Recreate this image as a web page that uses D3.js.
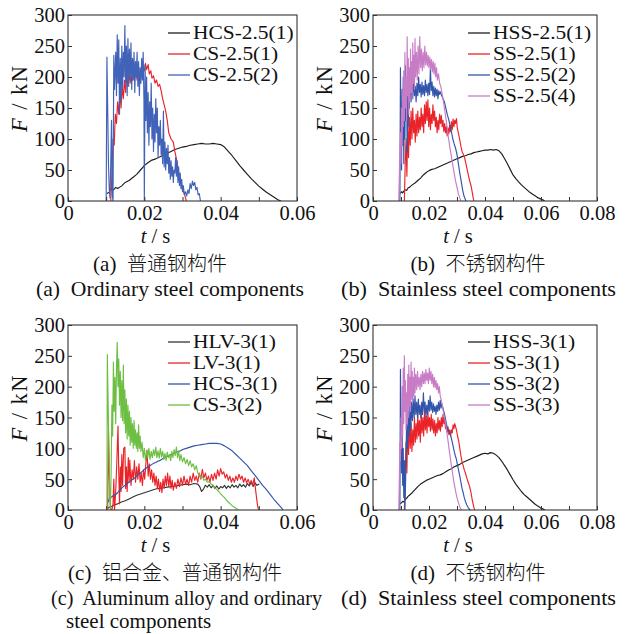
<!DOCTYPE html>
<html><head><meta charset="utf-8">
<script src="https://cdn.jsdelivr.net/npm/d3@7"></script>
<style>body{margin:0;background:#fff}svg{display:block}</style>
</head><body><svg id="c" width="626" height="634"></svg>
<script>
// ---------- DATA ([t (s), F (kN)]) ----------
const yTicks = [0, 50, 100, 150, 200, 250, 300];
const xTicksA = [0, 0.02, 0.04, 0.06];
const xTicksB = [0, 0.02, 0.04, 0.06, 0.08];

const HCS_2_5_1 = [[0.0102,12],[0.0108,14],[0.0112,20],[0.0118,17],[0.0125,22],[0.013,20],[0.014,24],[0.015,30],[0.016,33],[0.017,38],[0.018,43],[0.019,50],[0.02,57],[0.021,62],[0.022,66],[0.023,68],[0.024,71],[0.025,74],[0.026,77],[0.027,80],[0.028,83],[0.029,85],[0.03,87],[0.031,88],[0.032,90],[0.033,91],[0.034,92],[0.035,93],[0.036,92],[0.037,92],[0.038,93],[0.039,92],[0.04,91],[0.041,87],[0.042,80],[0.043,73],[0.044,65],[0.045,57],[0.046,50],[0.047,43],[0.048,36],[0.049,30],[0.05,24],[0.051,19],[0.052,14],[0.053,10],[0.054,6],[0.055,2],[0.0558,0]];
const CS_2_5_1 = [[0.0112,0],[0.0115,40],[0.0118,100],[0.0121,90],[0.0124,140],[0.0127,125],[0.013,160],[0.0133,140],[0.0136,175],[0.0139,150],[0.0142,185],[0.0145,165],[0.0148,195],[0.0151,175],[0.0154,200],[0.0157,185],[0.016,205],[0.0163,190],[0.0166,210],[0.0169,195],[0.0172,215],[0.0175,200],[0.0178,210],[0.0181,195],[0.0184,215],[0.0187,200],[0.019,212],[0.0193,205],[0.0196,218],[0.02,210],[0.0203,222],[0.0206,212],[0.021,220],[0.0213,205],[0.0217,210],[0.022,198],[0.0224,202],[0.0228,190],[0.0232,195],[0.0236,185],[0.024,188],[0.0244,178],[0.0248,165],[0.0252,155],[0.0256,145],[0.026,130],[0.0264,110],[0.027,100],[0.0276,95],[0.028,80],[0.0285,65],[0.029,45],[0.0298,23],[0.0307,7],[0.031,0]];
const CS_2_5_2 = [[0.01,0],[0.0102,232],[0.0104,150],[0.0106,60],[0.0108,20],[0.011,5],[0.0112,60],[0.0114,130],[0.0116,10],[0.0118,0],[0.012,235],[0.0122,180],[0.0125,240],[0.0127,170],[0.0129,268],[0.0131,190],[0.0133,260],[0.0135,140],[0.0137,230],[0.0139,160],[0.0141,250],[0.0143,180],[0.0145,240],[0.0147,200],[0.0149,283],[0.0151,190],[0.0153,250],[0.0155,170],[0.0157,262],[0.0159,185],[0.0161,245],[0.0163,200],[0.0165,255],[0.0167,180],[0.0169,230],[0.0171,195],[0.0173,240],[0.0175,175],[0.0177,225],[0.0179,200],[0.0181,240],[0.0183,185],[0.0185,225],[0.0187,170],[0.0189,215],[0.0191,190],[0.0193,230],[0.0195,195],[0.0197,240],[0.0199,160],[0.02,0],[0.0202,220],[0.0204,130],[0.0206,200],[0.0208,110],[0.021,175],[0.0212,90],[0.0214,160],[0.0216,120],[0.0218,190],[0.022,100],[0.0222,150],[0.0224,80],[0.0226,140],[0.0228,95],[0.023,165],[0.0232,110],[0.0234,150],[0.0236,70],[0.0238,120],[0.024,90],[0.0242,130],[0.0244,75],[0.0246,100],[0.0248,60],[0.025,145],[0.0252,55],[0.0254,95],[0.0256,50],[0.0258,85],[0.026,60],[0.0262,90],[0.0264,45],[0.0266,70],[0.0268,35],[0.027,65],[0.0272,40],[0.0274,55],[0.0276,30],[0.0278,50],[0.028,45],[0.0282,70],[0.0284,40],[0.0286,65],[0.0288,30],[0.029,55],[0.0292,25],[0.0294,45],[0.0296,20],[0.0298,35],[0.03,15],[0.0302,25],[0.0305,10],[0.0308,15],[0.0311,8],[0.0314,18],[0.0317,12],[0.032,28],[0.0323,20],[0.0326,32],[0.0329,25],[0.0332,30],[0.0335,18],[0.0338,22],[0.0341,10],[0.0344,12],[0.0347,0]];

const HSS_2_5_1 = [[0.0098,12],[0.0102,15],[0.0106,13],[0.011,16],[0.0115,18],[0.012,17],[0.0125,21],[0.013,22],[0.014,26],[0.015,29],[0.016,33],[0.017,37],[0.018,42],[0.019,46],[0.02,49],[0.021,51],[0.022,52],[0.023,54],[0.024,56],[0.025,58],[0.026,60],[0.027,62],[0.028,64],[0.029,66],[0.03,68],[0.031,70],[0.032,72],[0.033,73],[0.034,75],[0.035,76],[0.036,78],[0.037,79],[0.038,80],[0.039,81],[0.04,82],[0.041,82],[0.042,83],[0.043,82],[0.044,83],[0.045,81],[0.046,76],[0.047,68],[0.048,60],[0.049,51],[0.05,42],[0.051,36],[0.052,31],[0.053,26],[0.054,22],[0.055,18],[0.056,14],[0.057,11],[0.058,8],[0.059,5],[0.06,3],[0.061,1],[0.0613,0]];
const SS_2_5_1 = [[0.0112,0],[0.0115,60],[0.0118,100],[0.0121,40],[0.0124,120],[0.0127,70],[0.013,135],[0.0133,90],[0.0136,145],[0.0139,100],[0.0142,150],[0.0145,110],[0.0148,130],[0.0151,95],[0.0154,140],[0.0157,105],[0.016,145],[0.0163,110],[0.0166,135],[0.0169,115],[0.0172,150],[0.0175,120],[0.0178,140],[0.0181,110],[0.0184,155],[0.0187,125],[0.019,160],[0.0193,130],[0.0196,163],[0.0199,120],[0.0202,150],[0.0205,115],[0.0208,140],[0.0211,125],[0.0214,155],[0.0217,130],[0.022,145],[0.0223,120],[0.0226,135],[0.0229,110],[0.0232,130],[0.0235,115],[0.0238,140],[0.0241,125],[0.0244,138],[0.0247,120],[0.025,130],[0.0253,112],[0.0256,125],[0.0259,110],[0.0262,120],[0.0265,105],[0.0268,118],[0.0271,108],[0.0274,122],[0.0277,112],[0.028,128],[0.0283,115],[0.0286,132],[0.0289,120],[0.0292,130],[0.0295,125],[0.0298,133],[0.0301,118],[0.0304,112],[0.0307,105],[0.031,98],[0.0314,88],[0.0318,80],[0.0322,76],[0.0327,70],[0.0333,58],[0.0339,45],[0.0345,33],[0.0351,23],[0.0356,10],[0.036,0]];
const SS_2_5_2 = [[0.0096,0],[0.0098,215],[0.01,120],[0.0102,50],[0.0104,180],[0.0106,90],[0.0108,200],[0.011,60],[0.0112,150],[0.0114,100],[0.0116,218],[0.0118,130],[0.012,190],[0.0122,80],[0.0124,170],[0.0126,120],[0.0128,200],[0.013,150],[0.0133,210],[0.0136,160],[0.0139,195],[0.0142,165],[0.0145,205],[0.0148,170],[0.0151,185],[0.0154,160],[0.0157,190],[0.016,170],[0.0163,200],[0.0166,175],[0.0169,188],[0.0172,168],[0.0175,192],[0.0178,172],[0.0181,186],[0.0184,170],[0.0187,195],[0.019,175],[0.0193,188],[0.0196,170],[0.0199,190],[0.0202,172],[0.0205,215],[0.0208,178],[0.0211,192],[0.0214,170],[0.0217,185],[0.022,168],[0.0223,182],[0.0226,170],[0.0229,180],[0.0232,165],[0.0235,178],[0.0238,172],[0.0241,176],[0.0245,170],[0.025,165],[0.0255,160],[0.026,150],[0.0265,140],[0.027,132],[0.0275,122],[0.028,112],[0.0285,100],[0.029,92],[0.0295,85],[0.03,75],[0.0305,60],[0.031,45],[0.0315,32],[0.032,18],[0.0325,8],[0.0332,0]];
const SS_2_5_4 = [[0.0092,0],[0.0095,60],[0.0098,110],[0.01,60],[0.0102,150],[0.0104,90],[0.0106,180],[0.0108,120],[0.011,210],[0.0112,130],[0.0114,240],[0.0116,150],[0.0118,200],[0.012,130],[0.0122,265],[0.0124,170],[0.0126,230],[0.0128,140],[0.013,215],[0.0132,160],[0.0134,245],[0.0136,175],[0.0138,225],[0.014,165],[0.0142,255],[0.0144,190],[0.0146,235],[0.0148,180],[0.015,262],[0.0152,200],[0.0155,240],[0.0158,195],[0.0161,250],[0.0164,205],[0.0167,265],[0.017,215],[0.0173,245],[0.0176,210],[0.0179,240],[0.0182,215],[0.0185,250],[0.0188,220],[0.0191,240],[0.0194,218],[0.0197,235],[0.02,215],[0.0203,232],[0.0206,212],[0.0209,228],[0.0212,208],[0.0215,225],[0.0218,205],[0.0221,222],[0.0224,200],[0.0227,215],[0.023,195],[0.0234,205],[0.0238,190],[0.0242,185],[0.0246,175],[0.025,165],[0.0255,150],[0.026,135],[0.0265,118],[0.027,100],[0.0275,85],[0.028,72],[0.0285,58],[0.029,45],[0.0295,32],[0.03,22],[0.0305,12],[0.031,5],[0.0314,0]];

const HLV_3_1 = [[0.0105,3],[0.011,5],[0.0115,6],[0.012,8],[0.013,10],[0.014,13],[0.015,15],[0.016,18],[0.017,21],[0.018,24],[0.019,26],[0.02,28],[0.021,30],[0.022,32],[0.023,34],[0.024,35],[0.025,36],[0.026,37],[0.027,38],[0.028,39],[0.029,40],[0.03,41],[0.031,42],[0.032,41],[0.033,43],[0.034,42],[0.0345,38],[0.035,30],[0.0355,34],[0.036,40],[0.0365,37],[0.037,41],[0.0375,36],[0.038,40],[0.0385,35],[0.039,39],[0.0395,34],[0.04,38],[0.0405,36],[0.041,40],[0.0415,35],[0.042,39],[0.0425,36],[0.043,41],[0.0435,37],[0.044,40],[0.0445,36],[0.045,42],[0.0455,38],[0.046,41],[0.0465,37],[0.047,43],[0.0475,39],[0.048,45],[0.0485,38],[0.049,44],[0.0495,40],[0.0501,42]];
const LV_3_1 = [[0.0104,0],[0.0106,130],[0.0108,60],[0.011,20],[0.0112,0],[0.0115,0],[0.0118,10],[0.012,50],[0.0122,0],[0.0125,30],[0.0128,80],[0.0131,136],[0.0133,60],[0.0135,10],[0.0137,70],[0.0139,30],[0.0141,90],[0.0143,40],[0.0146,100],[0.0149,102],[0.0151,35],[0.0153,70],[0.0155,30],[0.0158,85],[0.016,45],[0.0162,81],[0.0165,40],[0.0168,65],[0.0171,50],[0.0174,80],[0.0177,45],[0.018,70],[0.0183,50],[0.0186,75],[0.0189,45],[0.0192,60],[0.0195,40],[0.0198,65],[0.0201,50],[0.0204,75],[0.0207,97],[0.021,55],[0.0213,75],[0.0216,50],[0.0219,65],[0.0222,45],[0.0225,60],[0.0228,40],[0.0231,55],[0.0234,35],[0.0237,50],[0.024,30],[0.0243,45],[0.0246,28],[0.0249,50],[0.0252,35],[0.0255,55],[0.0258,40],[0.0261,60],[0.0264,38],[0.0267,55],[0.027,35],[0.0273,48],[0.0276,32],[0.028,45],[0.0284,35],[0.0288,50],[0.0292,38],[0.0296,52],[0.03,40],[0.0304,55],[0.0308,42],[0.0312,50],[0.0316,40],[0.032,55],[0.0324,45],[0.0328,60],[0.0332,48],[0.0336,55],[0.034,45],[0.0344,60],[0.0348,50],[0.0352,66],[0.0356,52],[0.036,60],[0.0364,48],[0.0368,55],[0.0372,45],[0.0376,58],[0.038,48],[0.0384,60],[0.0388,50],[0.0392,65],[0.0396,55],[0.04,67],[0.0404,58],[0.0408,62],[0.0412,52],[0.0416,58],[0.042,48],[0.0424,55],[0.0428,45],[0.0432,52],[0.0436,45],[0.044,55],[0.0444,48],[0.0448,58],[0.0452,50],[0.0456,55],[0.046,45],[0.0464,52],[0.0468,44],[0.0472,50],[0.0476,42],[0.048,48],[0.0484,40],[0.0488,52],[0.0492,30],[0.0496,10],[0.0499,0]];
const HCS_3_1 = [[0.0104,12],[0.0108,18],[0.0112,20],[0.0116,22],[0.012,24],[0.0125,25],[0.013,28],[0.0135,32],[0.014,35],[0.0145,38],[0.015,40],[0.0155,43],[0.016,45],[0.0165,48],[0.017,50],[0.0175,52],[0.018,55],[0.0185,58],[0.019,60],[0.0195,63],[0.02,66],[0.0205,68],[0.021,70],[0.0215,72],[0.022,74],[0.0225,76],[0.023,77],[0.0235,79],[0.024,80],[0.0245,82],[0.025,84],[0.0255,85],[0.026,87],[0.0265,88],[0.027,90],[0.0275,91],[0.028,93],[0.0285,94],[0.029,95],[0.0295,96],[0.03,98],[0.031,100],[0.032,102],[0.033,104],[0.034,105],[0.035,106],[0.036,107],[0.037,108],[0.038,108],[0.039,108],[0.04,107],[0.041,104],[0.042,100],[0.043,96],[0.044,90],[0.045,84],[0.046,78],[0.047,72],[0.048,64],[0.049,56],[0.05,48],[0.051,40],[0.052,33],[0.053,25],[0.054,17],[0.055,10],[0.056,3],[0.0563,0]];
const CS_3_2 = [[0.0102,0],[0.0103,252],[0.0105,180],[0.0107,100],[0.0109,30],[0.0111,0],[0.0113,60],[0.0115,170],[0.0117,120],[0.0119,240],[0.0121,160],[0.0123,215],[0.0125,140],[0.0127,230],[0.0129,272],[0.0131,200],[0.0133,245],[0.0135,170],[0.0137,225],[0.0139,150],[0.0141,210],[0.0143,145],[0.0145,235],[0.0147,140],[0.0149,195],[0.0151,125],[0.0153,180],[0.0155,115],[0.0157,170],[0.0159,120],[0.0161,160],[0.0163,105],[0.0165,150],[0.0167,110],[0.0169,140],[0.0171,100],[0.0173,145],[0.0175,105],[0.0177,130],[0.0179,100],[0.0181,125],[0.0183,95],[0.0185,138],[0.0187,100],[0.0189,120],[0.0191,95],[0.0194,110],[0.0197,85],[0.02,100],[0.0203,80],[0.0206,95],[0.0209,85],[0.0212,100],[0.0215,82],[0.0218,95],[0.0221,85],[0.0224,98],[0.0227,88],[0.023,102],[0.0233,85],[0.0236,96],[0.0239,84],[0.0242,100],[0.0245,86],[0.0248,95],[0.0251,82],[0.0254,92],[0.0257,80],[0.026,94],[0.0263,85],[0.0266,90],[0.0269,80],[0.0272,95],[0.0275,85],[0.0278,98],[0.0281,88],[0.0284,102],[0.0287,85],[0.029,95],[0.0293,80],[0.0296,90],[0.03,78],[0.0304,85],[0.0308,75],[0.0312,82],[0.0316,72],[0.032,80],[0.0324,70],[0.0328,75],[0.0332,65],[0.0336,72],[0.034,60],[0.0344,58],[0.0348,52],[0.0352,55],[0.0356,48],[0.036,50],[0.0365,45],[0.037,46],[0.0375,42],[0.038,40],[0.0385,36],[0.039,33],[0.0395,30],[0.04,26],[0.0405,23],[0.041,20],[0.0415,16],[0.042,13],[0.0425,10],[0.043,7],[0.0435,5],[0.044,3],[0.0446,0]];

const HSS_3_1 = [[0.0098,10],[0.0102,12],[0.0106,14],[0.011,13],[0.0115,17],[0.012,19],[0.0125,22],[0.013,24],[0.014,28],[0.015,33],[0.016,38],[0.017,42],[0.018,45],[0.019,48],[0.02,50],[0.021,52],[0.022,54],[0.023,56],[0.024,57],[0.025,59],[0.026,62],[0.027,65],[0.028,67],[0.029,70],[0.03,72],[0.031,74],[0.032,77],[0.033,79],[0.034,81],[0.035,83],[0.036,85],[0.037,87],[0.038,89],[0.039,91],[0.04,92],[0.041,91],[0.042,93],[0.043,92],[0.044,89],[0.045,85],[0.046,79],[0.047,72],[0.048,65],[0.049,57],[0.05,49],[0.051,42],[0.052,36],[0.053,30],[0.054,25],[0.055,21],[0.056,17],[0.057,13],[0.058,9],[0.059,6],[0.06,3],[0.061,1],[0.0614,0]];
const SS_3_1 = [[0.0112,0],[0.0115,50],[0.0118,110],[0.0121,60],[0.0124,135],[0.0127,90],[0.013,150],[0.0133,100],[0.0136,140],[0.0139,95],[0.0142,130],[0.0145,105],[0.0148,150],[0.0151,110],[0.0154,140],[0.0157,115],[0.016,155],[0.0163,120],[0.0166,145],[0.0169,110],[0.0172,158],[0.0175,125],[0.0178,150],[0.0181,120],[0.0184,160],[0.0187,130],[0.019,152],[0.0193,125],[0.0196,158],[0.0199,135],[0.0202,150],[0.0205,128],[0.0208,155],[0.0211,130],[0.0214,148],[0.0217,125],[0.022,145],[0.0223,120],[0.0226,140],[0.0229,125],[0.0232,150],[0.0235,130],[0.0238,145],[0.0241,128],[0.0244,150],[0.0247,135],[0.025,155],[0.0253,140],[0.0256,148],[0.0259,132],[0.0262,140],[0.0265,126],[0.0268,135],[0.0271,122],[0.0274,130],[0.0277,120],[0.028,130],[0.0283,125],[0.0286,138],[0.0289,132],[0.0292,140],[0.0295,135],[0.0298,130],[0.0302,120],[0.0306,112],[0.031,100],[0.0314,88],[0.0318,78],[0.0322,72],[0.0326,65],[0.033,60],[0.0335,52],[0.034,45],[0.0345,38],[0.035,28],[0.0355,15],[0.036,5],[0.0363,0]];
const SS_3_2 = [[0.0096,0],[0.0098,228],[0.01,150],[0.0102,60],[0.0104,130],[0.0106,40],[0.0108,100],[0.011,20],[0.0112,80],[0.0114,0],[0.0117,60],[0.012,140],[0.0123,100],[0.0126,160],[0.0129,120],[0.0132,170],[0.0135,130],[0.0138,175],[0.0141,145],[0.0144,180],[0.0147,150],[0.015,185],[0.0153,155],[0.0156,175],[0.0159,150],[0.0162,180],[0.0165,155],[0.0168,170],[0.0171,150],[0.0174,175],[0.0177,155],[0.018,190],[0.0183,160],[0.0186,175],[0.0189,150],[0.0192,170],[0.0195,155],[0.0198,178],[0.0201,160],[0.0204,185],[0.0207,162],[0.021,175],[0.0213,158],[0.0216,172],[0.0219,160],[0.0222,168],[0.0225,155],[0.0228,170],[0.0231,160],[0.0234,175],[0.0237,162],[0.024,178],[0.0243,165],[0.0246,172],[0.025,165],[0.0254,158],[0.0258,150],[0.0262,140],[0.0266,132],[0.027,128],[0.0274,125],[0.0278,120],[0.0282,112],[0.0286,104],[0.029,95],[0.0294,88],[0.0298,82],[0.0302,72],[0.0306,64],[0.031,55],[0.0314,45],[0.0318,35],[0.0322,28],[0.0326,20],[0.033,14],[0.0335,8],[0.034,4],[0.0345,1],[0.0349,0]];
const SS_3_3 = [[0.0092,0],[0.0094,50],[0.0096,110],[0.0098,80],[0.01,150],[0.0102,100],[0.0104,200],[0.0106,120],[0.0108,230],[0.011,140],[0.0112,250],[0.0114,160],[0.0116,210],[0.0118,130],[0.012,190],[0.0122,140],[0.0124,220],[0.0126,150],[0.0128,235],[0.013,170],[0.0132,215],[0.0134,160],[0.0136,240],[0.0138,180],[0.014,225],[0.0142,175],[0.0144,215],[0.0146,185],[0.0148,230],[0.015,190],[0.0153,220],[0.0156,195],[0.0159,225],[0.0162,200],[0.0165,215],[0.0168,195],[0.0171,220],[0.0174,200],[0.0177,225],[0.018,205],[0.0183,222],[0.0186,205],[0.0189,228],[0.0192,210],[0.0195,222],[0.0198,205],[0.0201,230],[0.0204,210],[0.0207,225],[0.021,205],[0.0213,220],[0.0216,200],[0.0219,215],[0.0222,198],[0.0225,210],[0.0228,195],[0.0231,205],[0.0234,190],[0.0237,200],[0.024,185],[0.0244,178],[0.0248,168],[0.0252,158],[0.0256,148],[0.026,138],[0.0264,125],[0.0268,112],[0.0272,98],[0.0276,85],[0.028,72],[0.0284,60],[0.0288,48],[0.0292,38],[0.0296,28],[0.03,20],[0.0305,12],[0.031,5],[0.0316,0]];

const namesA = ["HCS-2.5(1)", "CS-2.5(1)", "CS-2.5(2)"];
const namesB = ["HSS-2.5(1)", "SS-2.5(1)", "SS-2.5(2)", "SS-2.5(4)"];
const namesC = ["HLV-3(1)", "LV-3(1)", "HCS-3(1)", "CS-3(2)"];
const namesD = ["HSS-3(1)", "SS-3(1)", "SS-3(2)", "SS-3(3)"];
const captionsA = ["(a)", "普通钢构件", "(a)  Ordinary steel components"];
const captionsB = ["(b)", "不锈钢构件", "(b)  Stainless steel components"];
const captionsC = ["(c)", "铝合金、普通钢构件", "(c)  Aluminum alloy and ordinary", "steel components"];
const captionsD = ["(d)", "不锈钢构件", "(d)  Stainless steel components"];

// ---------- STYLE ----------
const BLACK = "#1e1e1e", RED = "#ea2328", BLUE = "#3254aa", PINK = "#c97cc6", GREEN = "#6cbf42";
const SERIF = "'Liberation Serif','Times New Roman',serif";
const CJK = "'Noto Sans CJK SC',sans-serif";

const panels = [
  {l:68, r:297, t:15, b:201, xmax:0.06, xt:xTicksA, series:[HCS_2_5_1,CS_2_5_1,CS_2_5_2], names:namesA, colors:[BLACK,RED,"#4062b8"], lx:168, ly:33, cap:captionsA, capY:[243,271,295.5], cjkCx:160, enX:36, enW:268},
  {l:373, r:597, t:15, b:201, xmax:0.08, xt:xTicksB, series:[HSS_2_5_1,SS_2_5_1,SS_2_5_2,SS_2_5_4], names:namesB, colors:[BLACK,RED,BLUE,PINK], lx:468, ly:33, cap:captionsB, capY:[243,271,295.5], cjkCx:478, enX:341, enW:275},
  {l:68, r:297, t:325, b:510, xmax:0.06, xt:xTicksA, series:[HLV_3_1,LV_3_1,HCS_3_1,CS_3_2], names:namesC, colors:["#333",RED,BLUE,GREEN], lx:168, ly:342, cap:captionsC, capY:[552,580,604.5,628], cjkCx:175, enX:51, enW:271},
  {l:373, r:597, t:325, b:510, xmax:0.08, xt:xTicksB, series:[HSS_3_1,SS_3_1,SS_3_2,SS_3_3], names:namesD, colors:[BLACK,RED,BLUE,PINK], lx:468, ly:342, cap:captionsD, capY:[552,580,604.5], cjkCx:478, enX:341, enW:275}
];

const svg = d3.select("#c");
svg.append("rect").attr("width",626).attr("height",634).attr("fill","#fff");

panels.forEach((p, pi) => {
  const x = d3.scaleLinear().domain([0, p.xmax]).range([p.l, p.r]);
  const y = d3.scaleLinear().domain([0, 300]).range([p.b, p.t]);
  const g = svg.append("g");

  const cid = "clip" + pi;
  g.append("clipPath").attr("id", cid).append("rect")
    .attr("x", p.l).attr("y", p.t).attr("width", p.r - p.l).attr("height", p.b - p.t);

  const line = d3.line().x(d => x(d[0])).y(d => y(d[1]));
  const sg = g.append("g").attr("clip-path", `url(#${cid})`);
  p.series.forEach((s, i) => {
    sg.append("path").datum(s).attr("d", line).attr("fill", "none")
      .attr("stroke", p.colors[i]).attr("stroke-width", 1.15).attr("stroke-linejoin","round");
  });

  const minor = d3.range(0, p.xmax + 1e-9, 0.01);
  const labelled = new Set(p.xt.map(v => Math.round(v * 100)));
  const xAxis = d3.axisBottom(x).tickValues(minor).tickSize(-4).tickFormat(d => {
    const k = Math.round(d * 100);
    if (!labelled.has(k)) return "";
    return k === 0 ? "0" : d.toFixed(2);
  }).tickPadding(4);
  const gx = g.append("g").attr("transform", `translate(0,${p.b})`).call(xAxis);
  const yAxis = d3.axisLeft(y).tickValues(yTicks).tickSize(-4).tickFormat(d3.format("d")).tickPadding(3);
  const gy = g.append("g").attr("transform", `translate(${p.l},0)`).call(yAxis);
  [gx, gy].forEach(a => {
    a.select(".domain").remove();
    a.selectAll("line").attr("stroke", "#333").attr("stroke-width", 1);
    a.selectAll("text").attr("font-family", SERIF).attr("font-size", 20.5).attr("fill", "#111");
  });
  gx.selectAll("text").attr("dy", "0.72em");
  gy.selectAll("text").attr("dy", "0.34em");

  g.append("rect").attr("x", p.l).attr("y", p.t).attr("width", p.r - p.l).attr("height", p.b - p.t)
    .attr("fill", "none").attr("stroke", "#333").attr("stroke-width", 1.1);

  // y label
  const yl = g.append("text").attr("transform", `translate(${p.l - 41},${(p.t + p.b) / 2 - 9}) rotate(-90)`)
    .attr("text-anchor", "middle").attr("font-family", SERIF).attr("font-size", 22.5).attr("fill", "#111")
    .attr("style", "white-space:pre").attr("textLength", 66);
  yl.append("tspan").attr("font-style", "italic").text("F");
  yl.append("tspan").text(" / kN");

  // legend (glyphs slightly wide, as in the reference)
  p.names.forEach((n, i) => {
    const yy = p.ly + i * 21;
    g.append("line").attr("x1", p.lx).attr("x2", p.lx + 22).attr("y1", yy).attr("y2", yy)
      .attr("stroke", p.colors[i]).attr("stroke-width", 1.3);
    const t = g.append("text").attr("x", p.lx + 25).attr("y", yy).attr("dy", "0.35em")
      .attr("font-family", SERIF).attr("font-size", 18).attr("fill", "#111").text(n);
    const w = t.node().getComputedTextLength();
    t.attr("textLength", w * 1.19).attr("lengthAdjust", "spacingAndGlyphs");
  });

  // x label
  const xl = g.append("text").attr("x", (p.l + p.r) / 2 - 27).attr("y", p.capY[0]).attr("text-anchor", "middle")
    .attr("font-family", SERIF).attr("font-size", 20.5).attr("fill", "#111").attr("style", "white-space:pre");
  xl.append("tspan").attr("font-style", "italic").text("t");
  xl.append("tspan").text(" / s");

  // captions
  const c1 = g.append("text").attr("x", p.cjkCx).attr("y", p.capY[1]).attr("text-anchor", "middle")
    .attr("fill", "#111").attr("font-size", 20).attr("style", "white-space:pre");
  c1.append("tspan").attr("font-family", SERIF).attr("font-size", 21).text(p.cap[0] + "  ");
  c1.append("tspan").attr("font-family", CJK).attr("font-weight", 300).text(p.cap[1]);

  g.append("text").attr("x", p.enX).attr("y", p.capY[2])
    .attr("font-family", SERIF).attr("font-size", 21).attr("fill", "#111")
    .attr("textLength", p.enW).attr("lengthAdjust", "spacingAndGlyphs")
    .attr("style", "white-space:pre").text(p.cap[2]);
  if (p.cap.length > 3) {
    g.append("text").attr("x", 66).attr("y", p.capY[3]).attr("font-family", SERIF)
      .attr("font-size", 21).attr("fill", "#111").text(p.cap[3]);
  }
});
</script>
</body></html>
